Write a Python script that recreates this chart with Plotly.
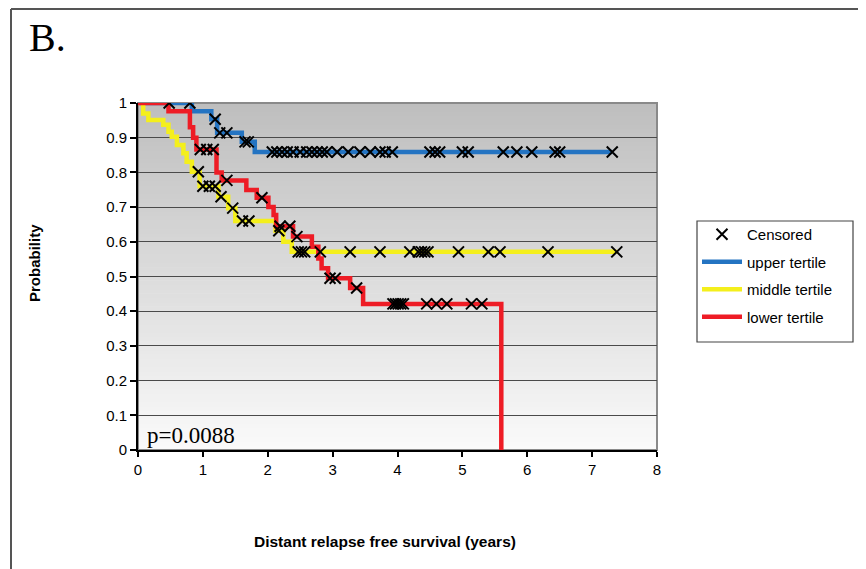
import numpy as np
import plotly.graph_objects as go

# ---------------- data ----------------
upper_t = [0, 0.83, 1.13, 1.22, 1.60, 1.80, 7.31]
upper_s = [1.0, 0.976, 0.953, 0.914, 0.888, 0.859, 0.859]
upper_cens = [0.48, 0.80, 1.19, 1.26, 1.37, 1.65, 1.70, 2.07, 2.14, 2.22, 2.30,
              2.39, 2.50, 2.60, 2.68, 2.76, 2.84, 2.91, 3.07, 3.24, 3.42, 3.58,
              3.73, 3.81, 3.92, 4.50, 4.58, 4.65, 5.00, 5.09, 5.63, 5.84, 6.07,
              6.43, 6.50, 7.31]

middle_t = [0, 0.08, 0.16, 0.39, 0.47, 0.52, 0.60, 0.70, 0.75, 0.83, 0.95,
            1.24, 1.39, 1.50, 2.12, 2.24, 2.37, 7.38]
middle_s = [1.0, 0.970, 0.951, 0.937, 0.917, 0.903, 0.879, 0.855, 0.831, 0.802,
            0.760, 0.730, 0.697, 0.660, 0.632, 0.600, 0.571, 0.571]
middle_cens = [0.93, 1.00, 1.10, 1.19, 1.28, 1.46, 1.61, 1.71, 2.17, 2.47, 2.52,
               2.57, 2.81, 3.27, 3.73, 4.19, 4.32, 4.37, 4.42, 4.47, 4.94, 5.40,
               5.58, 6.32, 7.38]

lower_t = [0, 0.47, 0.80, 0.85, 0.90, 1.21, 1.29, 1.67, 1.83, 2.01, 2.09, 2.13,
           2.39, 2.68, 2.78, 2.83, 2.93, 3.27, 3.47, 5.60]
lower_s = [1.0, 0.976, 0.930, 0.900, 0.866, 0.800, 0.777, 0.749, 0.727, 0.700,
           0.677, 0.645, 0.615, 0.586, 0.552, 0.524, 0.495, 0.467, 0.421, 0.0]
lower_cens = [0.96, 1.06, 1.16, 1.37, 1.91, 2.19, 2.34, 2.45, 2.96, 3.04, 3.37,
              3.93, 3.97, 4.01, 4.05, 4.09, 4.45, 4.60, 4.76, 5.14, 5.30]

x_ticks = [0, 1, 2, 3, 4, 5, 6, 7, 8]
y_ticks = [0, 0.1, 0.2, 0.3, 0.4, 0.5, 0.6, 0.7, 0.8, 0.9, 1]

names = ["upper tertile", "middle tertile", "lower tertile"]
colors = ["#2474c2", "#f4ef1c", "#ee1c25"]
p_text = "p=0.0088"


def surv_at(t_steps, s_steps, times):
    idx = np.searchsorted(np.array(t_steps), np.array(times), side="right") - 1
    return list(np.array(s_steps)[idx])


# ---------------- layout geometry (pixels, page coords) ----------------
OFF = 8                      # page body margin of the html page
W, H = 866 - OFF, 569 - OFF
L, R, T, B = 138, 657, 103, 450
PW, PH = R - L, B - T
SANS = "Liberation Sans, Arial, sans-serif"
SERIF = "Liberation Serif, Times New Roman, serif"


def px(x):
    return (x - L) / PW


def py(y):
    return (B - y) / PH


fig = go.Figure()

groups = [(upper_t, upper_s, upper_cens), (middle_t, middle_s, middle_cens),
          (lower_t, lower_s, lower_cens)]

for i, (t, s, c) in enumerate(groups):
    fig.add_trace(go.Scatter(
        x=t, y=s, mode="lines", line=dict(color=colors[i], width=4.5, shape="hv"),
        name=names[i], legendgroup=names[i], legendrank=i + 2, hoverinfo="skip"))

cx, cy = [], []
for t, s, c in groups:
    cx += c
    cy += surv_at(t, s, c)

fig.add_trace(go.Scatter(
    x=cx, y=cy, mode="markers", name="Censored", legendgroup="Censored",
    legendrank=1,
    marker=dict(symbol="x-thin", size=11, color="black",
                line=dict(color="black", width=2))))

# gradient plot background (bands)
shapes = []
nb = 80
for k in range(nb):
    f0 = k / nb
    f1 = (k + 1) / nb
    fm = (f0 + f1) / 2
    g = int(round(250 - (250 - 190) * fm))
    shapes.append(dict(type="rect", xref="x domain", yref="y domain",
                       x0=0, x1=1, y0=f0, y1=f1 + 0.002, layer="below",
                       line=dict(width=0), fillcolor=f"rgb({g},{g},{g})"))

# plot border (top/right grey)
shapes.append(dict(type="rect", xref="x domain", yref="y domain", x0=0, x1=1,
                   y0=0, y1=1, layer="below", line=dict(color="#8a8a8a", width=2)))
# outer frame
shapes.append(dict(type="line", xref="paper", yref="paper", x0=px(11), x1=px(866),
                   y0=py(9), y1=py(9), line=dict(color="#555555", width=2)))
shapes.append(dict(type="line", xref="paper", yref="paper", x0=px(11), x1=px(11),
                   y0=py(9), y1=py(575), line=dict(color="#555555", width=2)))
# legend box
shapes.append(dict(type="rect", xref="paper", yref="paper", x0=px(697), x1=px(853),
                   y0=py(221), y1=py(342), line=dict(color="#444444", width=1.2)))

annotations = [
    dict(text="B.", xref="paper", yref="paper", x=px(27), y=py(37),
         xanchor="left", yanchor="middle", showarrow=False,
         font=dict(family=SERIF, size=40, color="black")),
    dict(text=p_text, xref="paper", yref="paper", x=px(145), y=py(435),
         xanchor="left", yanchor="middle", showarrow=False,
         font=dict(family=SERIF, size=23, color="black")),
    dict(text="<b>Probability</b>", xref="paper", yref="paper", x=px(34),
         y=py(263), xanchor="center", yanchor="middle", textangle=-90,
         showarrow=False, font=dict(family=SANS, size=15, color="black")),
    dict(text="<b>Distant relapse free survival (years)</b>", xref="paper",
         yref="paper", x=px(385), y=py(541), xanchor="center", yanchor="middle",
         showarrow=False, font=dict(family=SANS, size=15.5, color="black")),
]

fig.update_layout(
    width=W, height=H,
    margin=dict(l=L - OFF, r=W - (R - OFF), t=T - OFF, b=H - (B - OFF), pad=0),
    paper_bgcolor="white", plot_bgcolor="rgba(0,0,0,0)",
    font=dict(family=SANS, size=15, color="black"),
    shapes=shapes, annotations=annotations,
    showlegend=True,
    legend=dict(x=px(697), y=py(218), xanchor="left", yanchor="top",
                bgcolor="rgba(0,0,0,0)", borderwidth=0, itemwidth=40,
                traceorder="grouped", tracegroupgap=5,
                font=dict(family=SANS, size=15, color="black")),
    xaxis=dict(range=[0, 8], tickvals=x_ticks, ticks="outside", ticklen=5,
               tickwidth=1.5, tickcolor="black", showline=True, linecolor="black",
               linewidth=2, showgrid=False, zeroline=False, fixedrange=True),
    yaxis=dict(range=[0, 1], tickvals=y_ticks, ticks="outside", ticklen=6,
               tickwidth=1.5, tickcolor="black", showline=True, linecolor="black",
               linewidth=2, showgrid=True, gridcolor="#4a4a4a", gridwidth=1.3,
               zeroline=False, fixedrange=True),
)

fig.write_html("out.html")
